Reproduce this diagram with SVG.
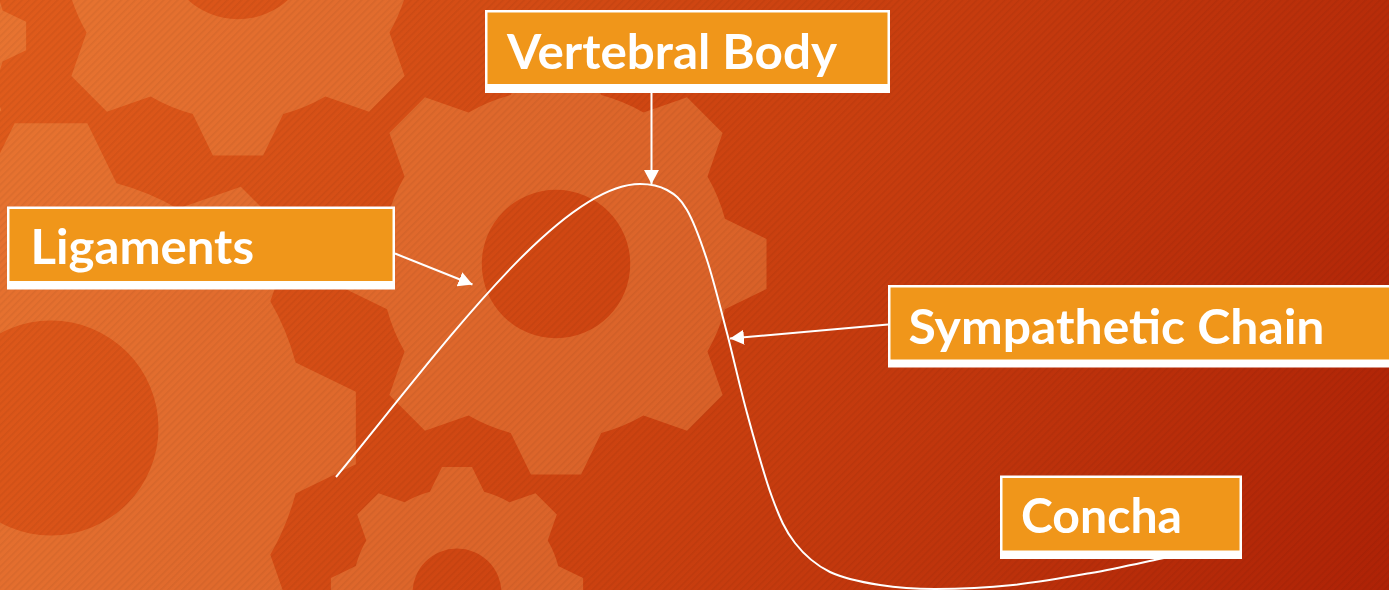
<svg xmlns="http://www.w3.org/2000/svg" xmlns:xlink="http://www.w3.org/1999/xlink" width="1389" height="590" viewBox="0 0 1389 590">
  <defs>
    <linearGradient id="bg" x1="0" y1="0" x2="1389" y2="590" gradientUnits="userSpaceOnUse">
      <stop offset="0" stop-color="#E05C1C"/>
      <stop offset="0.5" stop-color="#CC4210"/>
      <stop offset="1" stop-color="#AE2206"/>
    </linearGradient>
    <pattern id="stripes" width="5" height="5" patternUnits="userSpaceOnUse" patternTransform="rotate(45)">
      <rect x="0" y="0" width="1.6" height="5" fill="#000" fill-opacity="0.05"/>
    </pattern>
    <path id="gear" fill-rule="evenodd" d="M79.69,-21.35 L99.30,-11.84 L99.30,11.84 L79.69,21.35 A82.5,82.5 0 0 1 71.45,41.25 L78.60,61.82 L61.82,78.60 L41.25,71.45 A82.5,82.5 0 0 1 21.35,79.69 L11.84,99.30 L-11.84,99.30 L-21.35,79.69 A82.5,82.5 0 0 1 -41.25,71.45 L-61.82,78.60 L-78.60,61.82 L-71.45,41.25 A82.5,82.5 0 0 1 -79.69,21.35 L-99.30,11.84 L-99.30,-11.84 L-79.69,-21.35 A82.5,82.5 0 0 1 -71.45,-41.25 L-78.60,-61.82 L-61.82,-78.60 L-41.25,-71.45 A82.5,82.5 0 0 1 -21.35,-79.69 L-11.84,-99.30 L11.84,-99.30 L21.35,-79.69 A82.5,82.5 0 0 1 41.25,-71.45 L61.82,-78.60 L78.60,-61.82 L71.45,-41.25 A82.5,82.5 0 0 1 79.69,-21.35 Z M35,0 A35,35 0 1 0 -35,0 A35,35 0 1 0 35,0 Z"/>
    <marker id="arrow" markerUnits="userSpaceOnUse" viewBox="0 0 14 15" refX="14" refY="7.5" markerWidth="14" markerHeight="15" orient="auto">
      <path d="M0,0 L14,7.5 L0,15 Z" fill="#FFFFFF"/>
    </marker>
    <style>
      .gear { fill: #F5A05A; fill-opacity: 0.35; }
      .frame { fill: #FFFFFF; }
      .fill { fill: #F0961A; }
      .label { font-family: Lato, "Liberation Sans", sans-serif; font-weight: bold; font-size: 48px; fill: #FFFFFF; }
      .conn { stroke: #FFFFFF; stroke-width: 2; fill: none; }
    </style>
  </defs>

  <g id="background">
    <rect x="0" y="0" width="1389" height="590" fill="url(#bg)"/>
    <use xlink:href="#gear" class="gear" transform="translate(238,-55) scale(2.12)"/>
    <use xlink:href="#gear" class="gear" transform="translate(-93,36) scale(1.2)"/>
    <use xlink:href="#gear" class="gear" transform="translate(556,264) scale(2.12)"/>
    <use xlink:href="#gear" class="gear" transform="translate(51,428) scale(3.07)"/>
    <use xlink:href="#gear" class="gear" transform="translate(457,593) scale(1.27)"/>
    <rect x="0" y="0" width="1389" height="590" fill="url(#stripes)"/>
  </g>

  <g id="connectors">
    <path class="conn" d="M336,477 C440,350 560,184 640,184 C652,184 659.2,185.7 667,190 C674.8,194.3 680.3,198.3 687,210 C693.7,221.7 700.3,239.5 707,260 C713.7,280.5 720.3,307.5 727,333 C733.7,358.5 739.5,385.7 747,413 C754.5,440.3 764,475.3 772,497 C780,518.7 785.3,530.5 795,543 C804.7,555.5 815.8,565 830,572 C844.2,579 862.5,582.2 880,585 C897.5,587.8 912.8,589 935,589 C957.2,589 987,587.7 1013,585 C1039,582.3 1066.7,577.3 1091,573 C1115.3,568.7 1143.3,562.3 1159,559 C1174.7,555.7 1180.7,554 1185,553"/>
    <line class="conn" x1="651.5" y1="93" x2="651.5" y2="184" marker-end="url(#arrow)"/>
    <line class="conn" x1="395" y1="253.5" x2="472.5" y2="284.5" marker-end="url(#arrow)"/>
    <line class="conn" x1="888" y1="324.5" x2="730" y2="338.5" marker-end="url(#arrow)"/>
  </g>

  <g id="vertebral-body">
    <rect class="frame" x="485" y="10" width="405" height="83"/>
    <rect class="fill" x="487.5" y="12.5" width="400" height="71.5"/>
    <text class="label" x="507" y="68.5" textLength="330" lengthAdjust="spacingAndGlyphs">Vertebral Body</text>
  </g>

  <g id="ligaments">
    <rect class="frame" x="7" y="206.5" width="388" height="83"/>
    <rect class="fill" x="9.5" y="209" width="383" height="72"/>
    <text class="label" x="30.5" y="263.5" textLength="223.5" lengthAdjust="spacingAndGlyphs">Ligaments</text>
  </g>

  <g id="sympathetic-chain">
    <rect class="frame" x="888" y="285" width="520" height="82.5"/>
    <rect class="fill" x="890.5" y="287.5" width="520" height="72"/>
    <text class="label" x="908.5" y="343.5" textLength="416" lengthAdjust="spacingAndGlyphs">Sympathetic Chain</text>
  </g>

  <g id="concha">
    <rect class="frame" x="1000" y="475.5" width="242" height="83.5"/>
    <rect class="fill" x="1002.5" y="478" width="237" height="72.5"/>
    <text class="label" x="1021" y="532.5" textLength="161" lengthAdjust="spacingAndGlyphs">Concha</text>
  </g>
</svg>
